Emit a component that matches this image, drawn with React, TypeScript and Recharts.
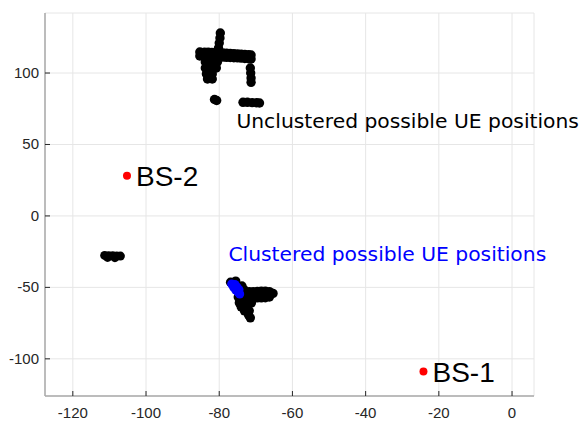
import React from 'react';
import { ScatterChart, Scatter, XAxis, YAxis, CartesianGrid, ReferenceDot } from 'recharts';

const xTicks = [-120, -100, -80, -60, -40, -20, 0];
const yTicks = [-100, -50, 0, 50, 100];

// black cloud, upper group
const unclusteredTop = [
  { x: -79.7, y: 128 }, { x: -79.8, y: 124.5 }, { x: -80, y: 121 }, { x: -80.2, y: 117.5 },
  { x: -85.3, y: 114.7 }, { x: -84, y: 114.6 }, { x: -83, y: 114.5 }, { x: -82, y: 114.4 },
  { x: -81, y: 114.2 }, { x: -80, y: 114.1 }, { x: -79, y: 114 }, { x: -78, y: 113.8 },
  { x: -77, y: 113.7 }, { x: -76, y: 113.5 }, { x: -75, y: 113.4 }, { x: -74, y: 113.2 },
  { x: -73, y: 113 }, { x: -72, y: 112.8 }, { x: -71.3, y: 112.6 },
  { x: -85.3, y: 111.9 }, { x: -84, y: 111.8 }, { x: -83, y: 111.6 }, { x: -82, y: 111.5 },
  { x: -81, y: 111.4 }, { x: -80, y: 111.2 }, { x: -79, y: 111.1 }, { x: -78, y: 111 },
  { x: -77, y: 110.9 }, { x: -76, y: 110.7 }, { x: -75, y: 110.6 }, { x: -74, y: 110.4 },
  { x: -73, y: 110.2 }, { x: -72, y: 110 }, { x: -71.3, y: 109.8 },
  { x: -83.8, y: 107.7 }, { x: -82.2, y: 107.7 }, { x: -80.5, y: 107.7 },
  { x: -83.8, y: 103.5 }, { x: -82.2, y: 103.5 }, { x: -80.8, y: 103.5 },
  { x: -83.5, y: 99.3 }, { x: -81.9, y: 99.3 },
  { x: -83.2, y: 95.8 }, { x: -81.9, y: 95.8 },
  { x: -71.5, y: 103.5 }, { x: -71.4, y: 100 }, { x: -71.3, y: 96.5 }, { x: -71.3, y: 93.5 },
  { x: -81.3, y: 81.5 }, { x: -80.7, y: 80.8 },
  { x: -73.5, y: 79.5 }, { x: -72.3, y: 79.5 }, { x: -71, y: 79.3 }, { x: -69.8, y: 79.2 }, { x: -69, y: 79 },
];

// black cloud, small left group
const unclusteredLeft = [
  { x: -111.3, y: -27.6 }, { x: -110.2, y: -27.8 }, { x: -109.1, y: -27.9 },
  { x: -108, y: -28 }, { x: -107, y: -28.1 }, { x: -110.5, y: -29 }, { x: -108.5, y: -29.2 },
];

// black cloud round the clustered points
const clusteredBlack = [
  { x: -76.9, y: -46.4 }, { x: -75.5, y: -45.6 }, { x: -73.8, y: -49 }, { x: -73.2, y: -51.7 },
  { x: -74.8, y: -56.8 }, { x: -73.4, y: -58.7 },
  { x: -72.9, y: -53.1 }, { x: -71.8, y: -53.1 }, { x: -70.7, y: -53.1 }, { x: -69.6, y: -52.8 },
  { x: -68.5, y: -52.6 }, { x: -67.4, y: -52.6 }, { x: -66.3, y: -53 }, { x: -65.3, y: -54.2 },
  { x: -72.9, y: -57.3 }, { x: -71.8, y: -57.3 }, { x: -70.7, y: -57.3 }, { x: -69.6, y: -57.3 },
  { x: -68.5, y: -57.3 }, { x: -67.4, y: -57.2 }, { x: -66.3, y: -56.7 },
  { x: -74.5, y: -60.8 }, { x: -72.9, y: -60.8 }, { x: -71.2, y: -60.8 },
  { x: -74, y: -63.6 }, { x: -72.3, y: -63.6 },
  { x: -73.1, y: -66.4 }, { x: -71.8, y: -66.4 },
  { x: -72, y: -69.2 }, { x: -71.5, y: -71.3 },
];

const clusteredBlue = [
  { x: -76.6, y: -47.6 }, { x: -75.7, y: -47.9 }, { x: -76.1, y: -49.8 }, { x: -75.1, y: -49.8 },
  { x: -75.5, y: -51.8 }, { x: -74.6, y: -51.6 }, { x: -74.8, y: -53.6 }, { x: -74.4, y: -54.6 },
];

const baseStations = [
  { name: 'BS-1', x: -24.2, y: -108.9 },
  { name: 'BS-2', x: -105.2, y: 28.2 },
];

const unclusteredLabel = 'Unclustered possible UE positions';
const clusteredLabel = 'Clustered possible UE positions';

const tickFont = '"Liberation Sans", Arial, sans-serif';
const noteFont = '"DejaVu Sans", Verdana, sans-serif';

const dot = (fill: string, r: number) => (p: any) => <circle cx={p.cx} cy={p.cy} r={r} fill={fill} />;

const XTick = ({ x, y, payload }: any) => (
  <g>
    <line x1={x} x2={x} y1={y} y2={y - 5} stroke="#262626" />
    <text x={x} y={y + 22} textAnchor="middle" fill="#262626" fontSize={15} fontFamily={tickFont}>
      {payload.value}
    </text>
  </g>
);

const YTick = ({ x, y, payload }: any) => (
  <g>
    <line x1={x} x2={x + 5} y1={y} y2={y} stroke="#262626" />
    <text x={x - 6} y={y + 5} textAnchor="end" fill="#262626" fontSize={15} fontFamily={tickFont}>
      {payload.value}
    </text>
  </g>
);

const note = (text: string, color: string) => (p: any) => (
  <text x={p.cx} y={p.cy} fill={color} fontSize={20.3} fontFamily={noteFont}>{text}</text>
);

const bsLabel = (text: string) => (p: any) => (
  <text x={p.cx + 9} y={p.cy + 10} fill="#000" fontSize={28} fontFamily={tickFont}>{text}</text>
);

export default function App() {
  return (
    <div style={{ position: 'absolute', left: 0, top: 0, background: '#fff' }}>
      <ScatterChart width={584} height={422} margin={{ top: 13, right: 50, bottom: 0, left: 0 }}>
        <CartesianGrid stroke="#e6e6e6" />
        <XAxis
          type="number"
          dataKey="x"
          domain={[-127.6, 6]}
          ticks={xTicks}
          allowDataOverflow
          height={26}
          tickSize={0}
          tickMargin={0}
          tickLine={false}
          axisLine={{ stroke: '#aaaaaa', strokeWidth: 1.5 }}
          tick={<XTick />}
        />
        <YAxis
          type="number"
          dataKey="y"
          domain={[-126, 142]}
          ticks={yTicks}
          allowDataOverflow
          width={45}
          tickSize={0}
          tickMargin={0}
          tickLine={false}
          axisLine={{ stroke: '#aaaaaa', strokeWidth: 1.5 }}
          tick={<YTick />}
        />
        <Scatter data={unclusteredTop} shape={dot('#000', 4.7)} isAnimationActive={false} />
        <Scatter data={unclusteredLeft} shape={dot('#000', 4.5)} isAnimationActive={false} />
        <Scatter data={clusteredBlack} shape={dot('#000', 4.7)} isAnimationActive={false} />
        <Scatter data={clusteredBlue} shape={dot('#0000ff', 4.5)} isAnimationActive={false} />
        <Scatter data={baseStations} shape={dot('#ff0000', 4)} isAnimationActive={false} />
        {baseStations.map((b) => (
          <ReferenceDot key={b.name} x={b.x} y={b.y} r={0} shape={bsLabel(b.name)} />
        ))}
        <ReferenceDot x={-75.3} y={61.2} r={0} shape={note(unclusteredLabel, '#000')} />
        <ReferenceDot x={-77.5} y={-31.3} r={0} shape={note(clusteredLabel, '#0000ff')} />
      </ScatterChart>
    </div>
  );
}
